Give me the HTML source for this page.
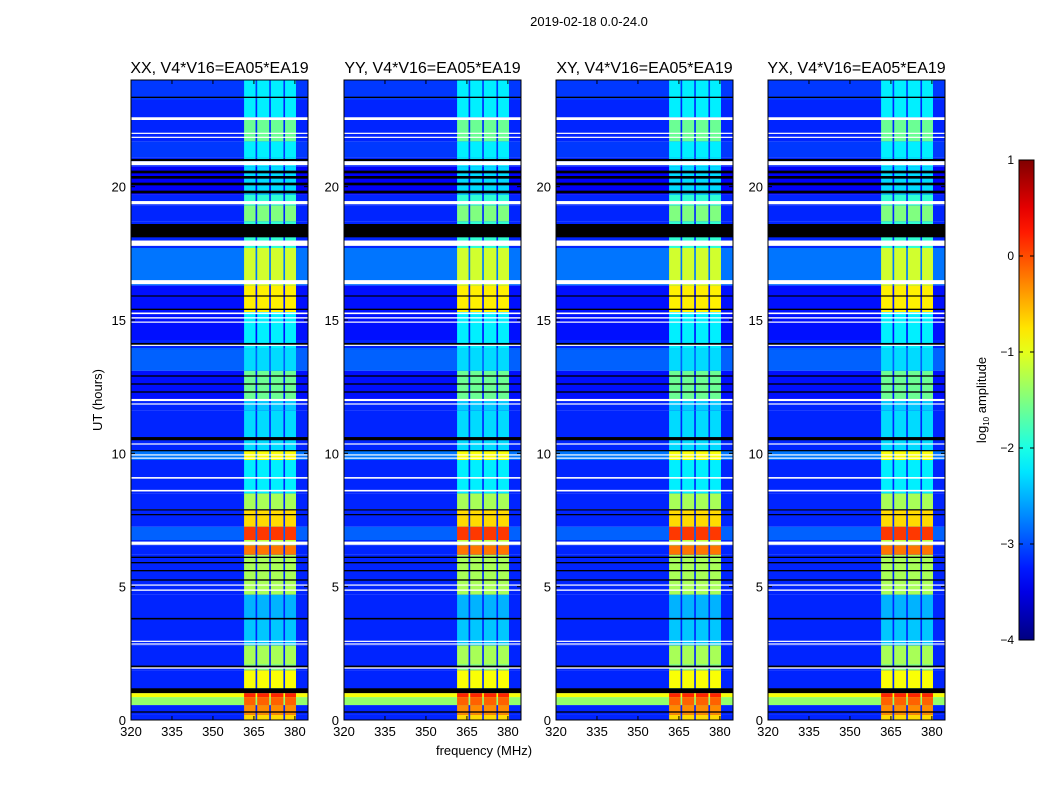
<!DOCTYPE html>
<html><head><meta charset="utf-8">
<style>
body{margin:0;background:#fff;width:1050px;height:800px;overflow:hidden;font-family:"Liberation Sans",sans-serif;}
svg text{font-family:"Liberation Sans",sans-serif;}
</style></head>
<body>
<svg id="chart" width="1050" height="800" xmlns="http://www.w3.org/2000/svg">
<text x="589" y="26" font-size="13" text-anchor="middle">2019-02-18 0.0-24.0</text>
<text x="102" y="400" font-size="13" text-anchor="middle" transform="rotate(-90 102 400)">UT (hours)</text>
<text x="484" y="755" font-size="13" text-anchor="middle">frequency (MHz)</text>
<g id="panels"></g>
<g id="cbar"></g>
</svg>
<script>
const panelTitles=["XX, V4*V16=EA05*EA19","YY, V4*V16=EA05*EA19","XY, V4*V16=EA05*EA19","YX, V4*V16=EA05*EA19"];
const segStart=[0,0.19,0.56,0.86,1.01,1.2,1.87,2.1,2.8,3.75,4.7,6.2,6.55,6.75,7.25,7.9,8.5,9.75,10.1,11.6,12,13.1,13.95,14.25,15.3,16.3,17.7,18.7,19.3,19.7,20.75,21.1,21.7,22.6,23.25];
const segEnd=[0.19,0.56,0.86,1.01,1.2,1.87,2.1,2.8,3.75,4.7,6.2,6.55,6.75,7.25,7.9,8.5,9.75,10.1,11.6,12,13.1,13.95,14.25,15.3,16.3,17.7,18.7,19.3,19.7,20.75,21.1,21.7,22.6,23.25,24];
const bgLog=[-3.2,-3.2,-1.4,-0.9,-3.2,-3.2,-3.2,-3.2,-3.2,-3.2,-3.2,-3.2,-3.2,-2.9,-3.2,-3.2,-3.2,-2.8,-3.2,-3.2,-3.3,-2.9,-3.2,-3.3,-3.3,-2.8,-3.2,-3.2,-3.2,-3.4,-3.2,-3.1,-3.2,-3.2,-3.1];
const rfiLog=[-0.7,-0.3,-0.1,0.2,-1.5,-0.9,-1.5,-1.3,-2.4,-2.5,-1.3,-0.2,-1.2,0.1,-0.7,-1.3,-2.2,-0.9,-2.3,-2.4,-1.6,-2.3,-2.2,-2.2,-0.8,-1.1,-1.9,-1.5,-1.9,-2.3,-2.2,-2.2,-1.6,-2.2,-2.2];
const rfiLo=[361.4,366.2,371.2,376.4];
const rfiHi=[365.6,370.6,375.8,380.4];
const blackHour=[1.1,0.3,2.0,3.8,5.25,5.6,5.9,6.1,7.7,7.88,10.55,10.1,12.3,12.6,12.9,14.1,15.9,15.4,18.35,19.8,20.1,20.35,20.55,21.0,23.35];
const blackWidth=[0.18,0.05,0.08,0.06,0.05,0.05,0.05,0.05,0.04,0.04,0.12,0.04,0.05,0.05,0.05,0.08,0.04,0.05,0.5,0.1,0.1,0.1,0.1,0.08,0.05];
const whiteHour=[1.95,2.95,2.85,4.87,5.06,6.63,8.6,9.08,9.94,9.82,10.35,12.0,11.85,14.05,15.25,15.08,14.92,16.42,17.88,19.4,20.88,22.0,21.85,22.55];
const whiteWidth=[0.05,0.04,0.03,0.05,0.04,0.12,0.06,0.06,0.04,0.03,0.04,0.08,0.03,0.04,0.06,0.05,0.04,0.15,0.2,0.12,0.15,0.04,0.03,0.1];
const xTicks=[320,335,350,365,380];
const yTicks=[0,5,10,15,20];
const cbTicks=[-4,-3,-2,-1,0,1];

const NS="http://www.w3.org/2000/svg";
const panelLeft=[131,344,556,768];
const pw=177, pTop=80, pBottom=720, fMin=320, fMax=384.8, tMin=0, tMax=24, vMin=-4, vMax=1;
function yScale(h){return pBottom-(h-tMin)/(tMax-tMin)*(pBottom-pTop);}
function jet(v){
  let t=(v-vMin)/(vMax-vMin);t=Math.max(0,Math.min(1,t));
  const c=x=>Math.round(255*Math.max(0,Math.min(1,1.5-Math.abs(4*t-x))));
  return `rgb(${c(3)},${c(2)},${c(1)})`;
}
function el(tag,attrs,parent){const e=document.createElementNS(NS,tag);for(const k in attrs)e.setAttribute(k,attrs[k]);parent.appendChild(e);return e;}
const panels=document.getElementById('panels');
panelLeft.forEach((px,pi)=>{
  const xScale=f=>px+(f-fMin)/(fMax-fMin)*pw;
  const g=el('g',{},panels);
  
  
  for(let i=0;i<segStart.length;i++){
    const y0=yScale(segEnd[i]),y1=yScale(segStart[i]);
    const r=el('rect',{x:px,y:y0,width:pw,height:y1-y0,fill:jet(bgLog[i])},g);
    
    
    for(let j=0;j<rfiLo.length;j++){
      const c=el('rect',{x:xScale(rfiLo[j]),y:y0,width:xScale(rfiHi[j])-xScale(rfiLo[j]),height:y1-y0,fill:jet(rfiLog[i])},g);
      
      
    }
  }
  blackHour.forEach((h,i)=>{
    const hh=Math.max(1.2,blackWidth[i]/(tMax-tMin)*(pBottom-pTop));
    const b=el('rect',{x:px,y:yScale(h)-hh/2,width:pw,height:hh,fill:'#000'},g);
    
    
  });
  whiteHour.forEach((h,i)=>{
    const hh=Math.max(1.2,whiteWidth[i]/(tMax-tMin)*(pBottom-pTop));
    const w=el('rect',{x:px,y:yScale(h)-hh/2,width:pw,height:hh,fill:'#fff'},g);
    
    
  });
  const fr=el('rect',{x:px,y:pTop,width:pw,height:pBottom-pTop,fill:'none',stroke:'#000','stroke-width':1},g);
  
  
  const t=el('text',{x:px+pw/2,y:73,'font-size':16,'text-anchor':'middle'},g);
  t.textContent=panelTitles[pi];
  
  
  xTicks.forEach(v=>{
    const x=xScale(v);
    el('line',{x1:x,x2:x,y1:pBottom,y2:pBottom-4,stroke:'#000'},g);
    el('line',{x1:x,x2:x,y1:pTop,y2:pTop+4,stroke:'#000'},g);
    const l=el('text',{x:x,y:pBottom+16,'font-size':13,'text-anchor':'middle'},g);
    l.textContent=v;
    
    
  });
  yTicks.forEach(v=>{
    const y=yScale(v);
    el('line',{x1:px,x2:px+4,y1:y,y2:y,stroke:'#000'},g);
    el('line',{x1:px+pw,x2:px+pw-4,y1:y,y2:y,stroke:'#000'},g);
    const l=el('text',{x:px-5,y:y+5,'font-size':13,'text-anchor':'end'},g);
    l.textContent=v;
    
    
  });
});
const cb=document.getElementById('cbar');
const cbX=1019,cbW=15,cbTop=160,cbBot=640;
const defs=el('defs',{},cb);
const grad=el('linearGradient',{id:'jetg',x1:0,y1:1,x2:0,y2:0},defs);
for(let i=0;i<=20;i++){el('stop',{offset:i/20,'stop-color':jet(vMin+(vMax-vMin)*i/20)},grad);}
const cr=el('rect',{x:cbX,y:cbTop,width:cbW,height:cbBot-cbTop,fill:'url(#jetg)',stroke:'#000'},cb);


cbTicks.forEach(v=>{
  const y=cbBot-(v-vMin)/(vMax-vMin)*(cbBot-cbTop);
  el('line',{x1:cbX,x2:cbX+4,y1:y,y2:y,stroke:'#000'},cb);
  el('line',{x1:cbX+cbW,x2:cbX+cbW-4,y1:y,y2:y,stroke:'#000'},cb);
  const l=el('text',{x:1014,y:y+4,'font-size':12,'text-anchor':'end'},cb);
  l.textContent=v<0?'\u2212'+(-v):String(v);
  
  
});
const cl=el('text',{x:986,y:400,'font-size':13,'text-anchor':'middle',transform:'rotate(-90 986 400)'},cb);
cl.innerHTML='log<tspan font-size="8" dy="3">10</tspan><tspan dy="-3"> amplitude</tspan>';


</script>
</body></html>
